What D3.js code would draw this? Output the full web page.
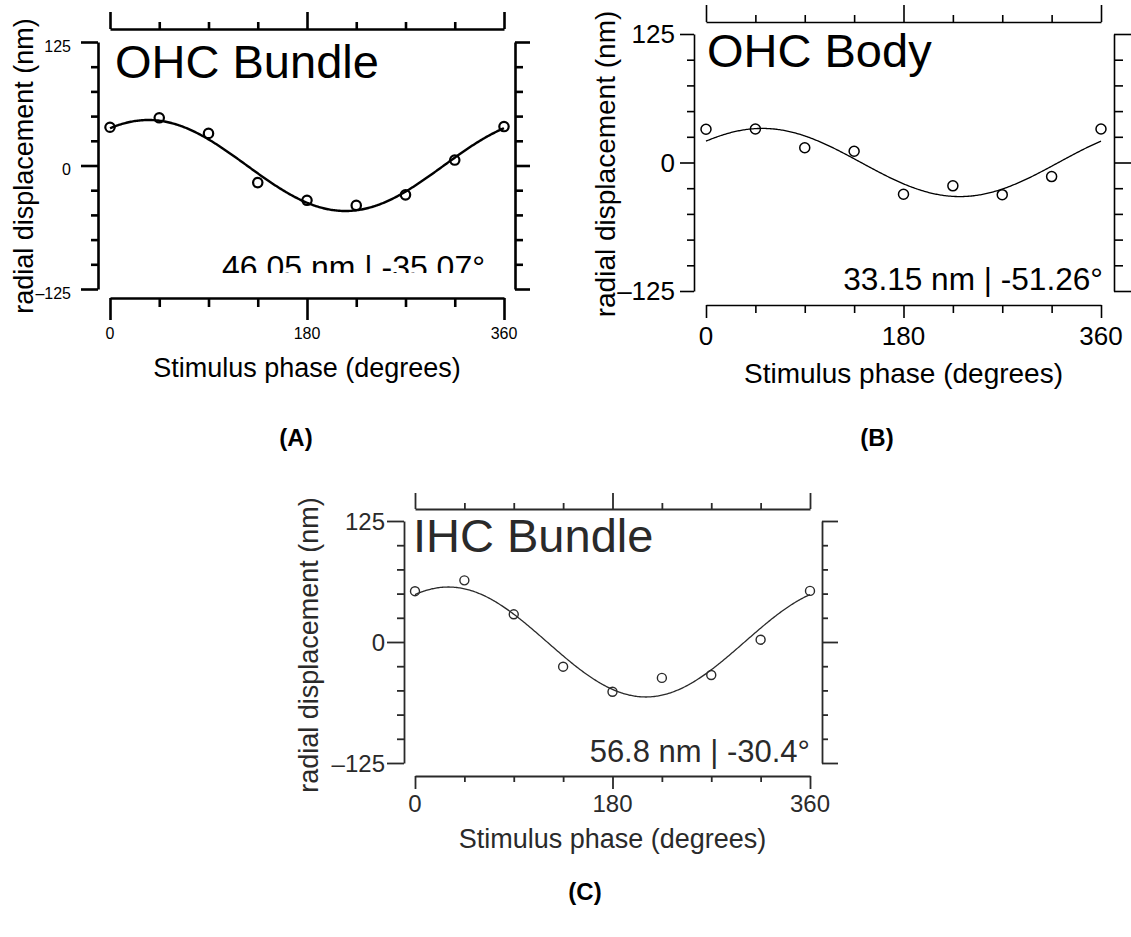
<!DOCTYPE html>
<html>
<head>
<meta charset="utf-8">
<script src="https://cdn.jsdelivr.net/npm/d3@7/dist/d3.min.js"></script>
<style>
  html, body { margin: 0; padding: 0; background: #fff; }
  svg { display: block; }
  text { font-family: "Liberation Sans", Arial, sans-serif; }
</style>
</head>
<body>
<svg id="fig" width="1131" height="937"></svg>
<script>
// Stimulus phase at which displacement was sampled (degrees)
const phases = [0, 45, 90, 135, 180, 225, 270, 315, 360];

// Measured radial displacement (nm) for each structure
const ohcBundleDisp = [38.7, 48.3, 32.5, -17.3, -35.2, -40.4, -29.7, 5.5, 39.4];
const ohcBodyDisp   = [32.3, 32.6, 14.4, 11.0, -30.9, -22.7, -31.3, -13.7, 32.6];
const ihcBundleDisp = [52.5, 63.7, 28.6, -25.5, -51.4, -37.1, -34.1, 2.4, 52.8];

// Sinusoidal fit parameters: amplitude (nm) and phase (degrees)
const fitAmplitude = [46.05, 33.15, 56.8];
const fitPhase = [-35.07, -51.26, -30.4];
const fitLabels = ["46.05 nm | -35.07°", "33.15 nm | -51.26°", "56.8 nm | -30.4°"];

const panelNames = ["OHC Bundle", "OHC Body", "IHC Bundle"];
const panelTags = ["(A)", "(B)", "(C)"];

// Axis ticks
const xMajorTicks = [0, 180, 360];
const xAllTicks = [0, 45, 90, 135, 180, 225, 270, 315, 360];
const yMajorTicks = [-125, 0, 125];
const yAllTicks = [-125, -100, -75, -50, -25, 0, 25, 50, 75, 100, 125];
const yTickText = { "-125": "\u2013125", "0": "0", "125": "125" };

const xTitle = "Stimulus phase (degrees)";
const yTitle = "radial displacement (nm)";

const svg = d3.select("#fig");

// Layout of each panel
const layouts = [
  { x0: 110, x1: 504, yTop: 42, yBot: 289, lx: 98, rx: 515, ty: 29, by: 298,
    lMaj: 17, lMin: 7, rMaj: 15, rMin: 8, tMaj: 17, tMin: 7, bMaj: 22, bMin: 9,
    tickFont: 16, yLabRight: 71, yLabDy: 4, xLabY: 333,
    axisFont: 27, xTitleY: 377, yTitleX: 33, yTitleY: 166,
    nameX: 115, nameY: 78, nameFont: 47,
    fitX: 485, fitY: 278, fitFont: 32, fitClip: 273,
    axisW: 2.6, lineW: 2.4, r: 4.7, dotW: 2.2, color: "#000",
    tagX: 296, tagY: 446 },
  { x0: 706, x1: 1101, yTop: 34, yBot: 291, lx: 694, rx: 1114, ty: 22, by: 305,
    lMaj: 14, lMin: 7, rMaj: 17, rMin: 9, tMaj: 17, tMin: 7, bMaj: 13, bMin: 8,
    tickFont: 26, yLabRight: 675, yLabDy: 0, xLabY: 336,
    axisFont: 28, xTitleY: 383, yTitleX: 615, yTitleY: 164,
    nameX: 707, nameY: 67, nameFont: 47,
    fitX: 1103, fitY: 290, fitFont: 31.6, fitClip: null,
    axisW: 1.6, lineW: 1.3, r: 5, dotW: 1.5, color: "#000",
    tagX: 877, tagY: 446 },
  { x0: 415, x1: 810, yTop: 521, yBot: 763, lx: 404, rx: 822, ty: 509, by: 776,
    lMaj: 17, lMin: 7, rMaj: 16, rMin: 6, tMaj: 16, tMin: 6, bMaj: 13, bMin: 6,
    tickFont: 24, yLabRight: 385, yLabDy: 0, xLabY: 803,
    axisFont: 27, xTitleY: 848, yTitleX: 318, yTitleY: 645,
    nameX: 413, nameY: 552, nameFont: 47,
    fitX: 810, fitY: 762, fitFont: 31, fitClip: null,
    axisW: 1.8, lineW: 1.3, r: 4.5, dotW: 1.4, color: "#2a2a2a",
    tagX: 585, tagY: 900 }
];

const series = [ohcBundleDisp, ohcBodyDisp, ihcBundleDisp];

function drawPanel(i) {
  const L = layouts[i];
  const g = svg.append("g").attr("class", "panel panel-" + i);
  const x = d3.scaleLinear().domain([0, 360]).range([L.x0, L.x1]);
  const y = d3.scaleLinear().domain([-125, 125]).range([L.yBot, L.yTop]);

  // Frame axes: long ticks at labelled values, short ticks in between
  const styleAxis = (sel, majors, majLen, minLen, attr) => {
    sel.select(".domain").attr("stroke", L.color).attr("stroke-width", L.axisW).attr("fill", "none");
    sel.selectAll(".tick line")
      .attr("stroke", L.color)
      .attr("stroke-width", L.axisW)
      .attr(attr, d => majors.includes(d) ? majLen : minLen);
    sel.selectAll(".tick text").remove();
  };

  const gl = g.append("g").attr("transform", `translate(${L.lx},0)`)
    .call(d3.axisLeft(y).tickValues(yAllTicks).tickSizeOuter(0));
  styleAxis(gl, yMajorTicks, -L.lMaj, -L.lMin, "x2");

  const gr = g.append("g").attr("transform", `translate(${L.rx},0)`)
    .call(d3.axisRight(y).tickValues(yAllTicks).tickSizeOuter(0));
  styleAxis(gr, yMajorTicks, L.rMaj, L.rMin, "x2");

  const gt = g.append("g").attr("transform", `translate(0,${L.ty})`)
    .call(d3.axisTop(x).tickValues(xAllTicks).tickSizeOuter(0));
  styleAxis(gt, xMajorTicks, -L.tMaj, -L.tMin, "y2");

  const gb = g.append("g").attr("transform", `translate(0,${L.by})`)
    .call(d3.axisBottom(x).tickValues(xAllTicks).tickSizeOuter(0));
  styleAxis(gb, xMajorTicks, L.bMaj, L.bMin, "y2");

  // Y tick labels
  g.append("g").selectAll("text").data(yMajorTicks).join("text")
    .attr("x", L.yLabRight)
    .attr("y", d => y(d) + L.yLabDy)
    .attr("text-anchor", "end")
    .attr("dominant-baseline", "central")
    .attr("font-size", L.tickFont)
    .attr("fill", L.color)
    .text(d => yTickText[String(d)]);

  // X tick labels
  g.append("g").selectAll("text").data(xMajorTicks).join("text")
    .attr("x", d => x(d))
    .attr("y", L.xLabY)
    .attr("text-anchor", "middle")
    .attr("dominant-baseline", "central")
    .attr("font-size", L.tickFont)
    .attr("fill", L.color)
    .text(d => d);

  // Axis titles
  g.append("text")
    .attr("x", (L.x0 + L.x1) / 2).attr("y", L.xTitleY)
    .attr("text-anchor", "middle")
    .attr("font-size", L.axisFont)
    .attr("fill", L.color)
    .text(xTitle);
  g.append("text")
    .attr("transform", `translate(${L.yTitleX},${L.yTitleY}) rotate(-90)`)
    .attr("text-anchor", "middle")
    .attr("font-size", L.axisFont)
    .attr("fill", L.color)
    .text(yTitle);

  // Structure name
  g.append("text")
    .attr("x", L.nameX).attr("y", L.nameY)
    .attr("font-size", L.nameFont)
    .attr("fill", L.color)
    .text(panelNames[i]);

  // Fit parameters
  const fitText = g.append("text")
    .attr("x", L.fitX).attr("y", L.fitY)
    .attr("text-anchor", "end")
    .attr("font-size", L.fitFont)
    .attr("fill", L.color)
    .text(fitLabels[i]);
  if (L.fitClip !== null) {
    const id = "fitclip" + i;
    svg.append("defs").append("clipPath").attr("id", id)
      .append("rect").attr("x", 0).attr("y", 0).attr("width", 1131).attr("height", L.fitClip);
    fitText.attr("clip-path", `url(#${id})`);
  }

  // Fitted sinusoid: A * cos(phase + phi)
  const amp = fitAmplitude[i], phi = fitPhase[i];
  const fitPts = d3.range(0, 360.5, 1).map(p => [p, amp * Math.cos((p + phi) * Math.PI / 180)]);
  g.append("path")
    .datum(fitPts)
    .attr("fill", "none")
    .attr("stroke", L.color)
    .attr("stroke-width", L.lineW)
    .attr("d", d3.line().x(d => x(d[0])).y(d => y(d[1])));

  // Measured points
  g.append("g").selectAll("circle").data(phases.map((p, k) => [p, series[i][k]])).join("circle")
    .attr("cx", d => x(d[0]))
    .attr("cy", d => y(d[1]))
    .attr("r", L.r)
    .attr("fill", "none")
    .attr("stroke", L.color)
    .attr("stroke-width", L.dotW);

  // Panel tag
  svg.append("text")
    .attr("x", L.tagX).attr("y", L.tagY)
    .attr("text-anchor", "middle")
    .attr("font-family", "'Liberation Serif', 'Times New Roman', serif")
    .attr("font-weight", "bold")
    .attr("font-size", 24)
    .text(panelTags[i]);
}

[0, 1, 2].forEach(drawPanel);
</script>
</body>
</html>
